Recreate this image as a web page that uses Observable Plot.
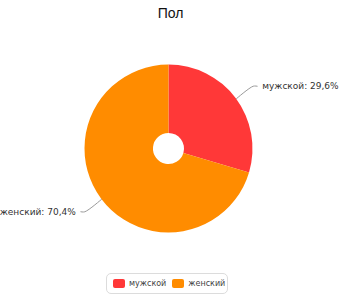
<!DOCTYPE html>
<html>
<head>
<meta charset="utf-8">
<script src="https://cdn.jsdelivr.net/npm/d3@7"></script>
<script src="https://cdn.jsdelivr.net/npm/@observablehq/plot@0.6"></script>
<style>
  body { margin: 0; background: #fff; width: 341px; height: 300px; position: relative; overflow: hidden; }
  #title { height: 30px; line-height: 30px; text-align: center; font: 14px "Liberation Sans", sans-serif; color: #111;
           position: relative; top: 5px; }
  #chart svg { display: block; overflow: visible; }
  #legend { position: absolute; left: 106px; top: 273px; width: 114px; height: 19px; border: 1px solid #dcdcdc; border-radius: 5px;
            display: flex; align-items: center; gap: 6px; padding-left: 6px; box-sizing: content-box;
            font: 8px "DejaVu Sans", sans-serif; color: #444; }
  .item { display: flex; align-items: center; gap: 4px; }
  .swatch { width: 12px; height: 9px; border-radius: 2px; }
</style>
</head>
<body>
<div id="title"></div>
<div id="chart"></div>
<div id="legend"></div>
<script>
const titleText = "Пол";
const categories = ["мужской", "женский"];
const shares = [29.6, 70.4];
const colors = ["#ff3838", "#ff8c00"];

const rows = categories.map((category, i) => ({category, share: shares[i], color: colors[i]}));
const slices = d3.pie().sort(null).value(d => d.share)(rows);

const holeRatio = 0.185;   // donut hole relative to outer radius
const elbow = 1.25;        // where the leader line bends, in radii
const tail = 4 / 84;       // short horizontal run of the leader

// Leader lines and label anchors, in unit-circle coordinates (y up)
const leaders = [];
const labels = slices.map(s => {
  const m = (s.startAngle + s.endAngle) / 2;
  const ux = Math.sin(m), uy = Math.cos(m);
  const side = ux >= 0 ? 1 : -1;
  const ex = ux * elbow, ey = uy * elbow;
  const id = s.data.category;
  leaders.push({id, x: ux, y: uy}, {id, x: ex, y: ey}, {id, x: ex + side * tail, y: ey});
  return {
    x: ex + side * tail, y: ey, side,
    text: `${s.data.category}: ${String(s.data.share).replace(".", ",")}%`
  };
});

// Donut slices drawn with d3.arc, placed by the plot's x/y scales
function donut(index, scales) {
  const {x, y} = scales;
  const r = Math.abs(x(1) - x(0));
  const arc = d3.arc().innerRadius(r * holeRatio).outerRadius(r);
  const g = d3.create("svg:g").attr("transform", `translate(${x(0)},${y(0)})`);
  g.selectAll("path").data(slices).join("path")
    .attr("d", arc)
    .attr("fill", d => d.data.color);
  return g.node();
}

const chart = Plot.plot({
  width: 341,
  height: 240,
  marginLeft: 84.5,
  marginRight: 88.5,
  marginTop: 34.5,
  marginBottom: 37.5,
  x: {domain: [-1, 1], axis: null},
  y: {domain: [-1, 1], axis: null},
  style: {fontFamily: "DejaVu Sans, sans-serif", background: "transparent"},
  marks: [
    donut,
    Plot.line(leaders, {x: "x", y: "y", z: "id", stroke: "#9a9a9a", strokeWidth: 1, curve: "catmull-rom"}),
    Plot.text(labels.filter(d => d.side > 0), {x: "x", y: "y", text: "text", textAnchor: "start", dx: 5, fontSize: 9, fill: "#333"}),
    Plot.text(labels.filter(d => d.side < 0), {x: "x", y: "y", text: "text", textAnchor: "end", dx: -5, fontSize: 9, fill: "#333"})
  ]
});

document.getElementById("title").textContent = titleText;
document.getElementById("chart").append(chart);

const legend = d3.select("#legend");
rows.forEach(r => {
  const item = legend.append("div").attr("class", "item");
  item.append("div").attr("class", "swatch").style("background", r.color);
  item.append("span").text(r.category);
});
</script>
</body>
</html>
